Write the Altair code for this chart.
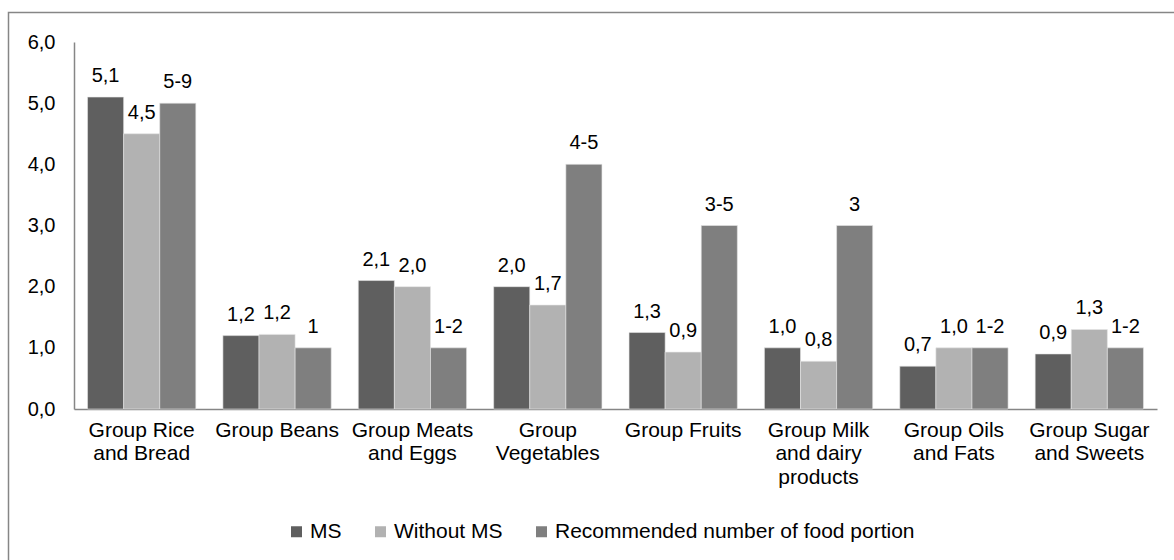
import altair as alt
import pandas as pd

groups = [
    "Group Rice|and Bread",
    "Group Beans",
    "Group Meats|and Eggs",
    "Group|Vegetables",
    "Group Fruits",
    "Group Milk|and dairy|products",
    "Group Oils|and Fats",
    "Group Sugar|and Sweets",
]
series = ["MS", "Without MS", "Recommended number of food portion"]
ms_values = [5.1, 1.2, 2.1, 2.0, 1.25, 1.0, 0.7, 0.9]
ms_labels = ["5,1", "1,2", "2,1", "2,0", "1,3", "1,0", "0,7", "0,9"]
without_values = [4.5, 1.22, 2.0, 1.7, 0.93, 0.78, 1.0, 1.3]
without_labels = ["4,5", "1,2", "2,0", "1,7", "0,9", "0,8", "1,0", "1,3"]
rec_values = [5, 1, 1, 4, 3, 3, 1, 1]
rec_labels = ["5-9", "1", "1-2", "4-5", "3-5", "3", "1-2", "1-2"]
colors = ["#5f5f5f", "#b2b2b2", "#7f7f7f"]
y_ticks = [0, 1, 2, 3, 4, 5, 6]

rows = []
for s, vals, labs in zip(series, [ms_values, without_values, rec_values],
                         [ms_labels, without_labels, rec_labels]):
    for g, v, l in zip(groups, vals, labs):
        rows.append({"group": g, "series": s, "value": v, "label": l})
df = pd.DataFrame(rows)

FONT = "Liberation Sans"

x_enc = alt.X(
    "group:N", sort=groups, title=None,
    scale=alt.Scale(paddingInner=0.2, paddingOuter=0.1),
    axis=alt.Axis(
        labelExpr="split(datum.label, '|')", labelAngle=0, ticks=False,
        labelFontSize=21, labelLineHeight=23.5, labelPadding=10,
        labelColor="#000000", domainColor="#868686", domainWidth=1.5,
        labelFont=FONT, labelBaseline="top", labelLimit=0,
    ),
)
y_enc = alt.Y(
    "value:Q", title=None,
    scale=alt.Scale(domain=[0, 6], nice=False, zero=True),
    axis=alt.Axis(
        values=y_ticks, ticks=False, grid=False,
        labelExpr="replace(format(datum.value, '.1f'), '.', ',')",
        labelFontSize=20, labelPadding=19, labelColor="#000000",
        domainColor="#868686", domainWidth=1.5, labelFont=FONT,
    ),
)
color_enc = alt.Color(
    "series:N", sort=series,
    scale=alt.Scale(domain=series, range=colors),
    legend=alt.Legend(
        title=None, orient="none", direction="horizontal",
        legendX=212, legendY=479, symbolType="square", symbolSize=121,
        symbolStrokeWidth=0, labelFontSize=21, labelOffset=3,
        columnPadding=28, labelFont=FONT, labelColor="#000000",
        labelLimit=1000,
    ),
)

bars = alt.Chart(df).mark_bar(stroke="#e6e6e6", strokeWidth=0.6).encode(
    x=x_enc,
    xOffset=alt.XOffset("series:N", sort=series),
    y=y_enc,
    color=color_enc,
)

texts = alt.Chart(df).mark_text(
    baseline="alphabetic", dy=-15, fontSize=20, font=FONT, color="#000000"
).encode(
    x=alt.X("group:N", sort=groups),
    xOffset=alt.XOffset("series:N", sort=series),
    y=alt.Y("value:Q"),
    text="label:N",
)

border = alt.Chart(pd.DataFrame({"a": [0]})).mark_rect(
    fill=None, stroke="#868686", strokeWidth=1.5
).encode(
    x=alt.value(-65.5), x2=alt.value(1200), y=alt.value(-29.5), y2=alt.value(600)
)

chart = alt.layer(border, bars, texts).properties(
    width=1083, height=367,
    autosize=alt.AutoSizeParams(type="none"),
    padding={"left": 74, "top": 42, "right": 17, "bottom": 151},
    background="#ffffff",
).configure_view(stroke=None)

chart.save("out.html", embed_options={"renderer": "svg", "actions": False})
